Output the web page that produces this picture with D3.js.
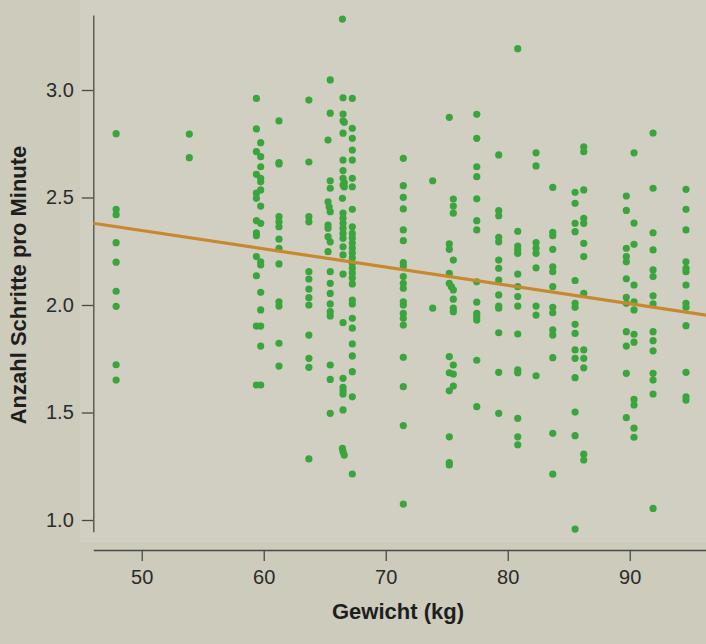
<!DOCTYPE html>
<html>
<head>
<meta charset="utf-8">
<script src="https://cdn.jsdelivr.net/npm/d3@7"></script>
<style>
  html, body { margin: 0; padding: 0; background: #cdcbbc; }
  svg { display: block; }
  text { font-family: "Liberation Sans", Arial, Helvetica, sans-serif; }
</style>
</head>
<body>
<svg id="chart" width="706" height="644"></svg>
<script>
// ---- data ----
const weightKg = [
  // ~48 kg
  47.9,47.9,47.9,47.9,47.9,47.9,47.9,47.9,47.9,
  // ~54 kg
  53.9,53.9,
  // ~59.4 kg
  59.4,59.4,59.4,59.4,59.4,59.4,59.4,59.4,59.4,59.4,59.4,59.4,59.4,
  // ~59.75 kg
  59.75,59.75,59.75,59.75,59.75,59.75,59.75,59.75,59.75,59.75,59.75,59.75,59.75,59.75,59.75,
  // ~61.25 kg
  61.25,61.25,61.25,61.25,61.25,61.25,61.25,61.25,61.25,61.25,61.25,61.25,61.25,
  // ~63.7 kg
  63.7,63.7,63.7,63.7,63.7,63.7,63.7,63.7,63.7,63.7,63.7,63.7,63.7,
  // ~65.3-65.45 kg
  65.45,65.45,65.27,65.45,65.45,65.27,65.36,65.45,65.27,65.27,65.27,65.45,65.27,
  65.45,65.45,65.45,65.45,65.45,65.45,65.45,65.45,65.45,
  // ~66.5 kg
  66.45,66.5,66.5,66.5,66.6,66.5,66.5,66.5,66.5,66.6,66.5,66.6,66.45,66.5,66.5,66.5,
  66.5,66.5,66.5,66.5,66.5,66.5,66.5,66.5,66.5,66.5,66.5,66.5,66.45,66.5,66.6,
  // ~67.25 kg
  67.26,67.26,67.26,67.26,67.26,67.26,67.26,67.26,67.26,67.26,67.26,67.26,67.26,67.26,
  67.26,67.26,67.26,67.26,67.26,67.26,67.26,67.26,67.26,67.26,67.26,67.26,67.26,67.26,67.26,
  // ~71.4 kg
  71.44,71.44,71.44,71.44,71.44,71.44,71.44,71.44,71.44,71.44,71.44,71.44,71.44,71.44,
  71.44,71.44,71.44,71.44,71.44,71.44,
  // ~73.9 kg
  73.85,73.85,
  // ~75.2-75.5 kg
  75.21,75.54,75.54,75.54,75.21,75.21,75.54,75.21,75.21,75.38,75.54,75.54,75.54,75.54,
  75.21,75.54,75.21,75.54,75.54,75.21,75.21,75.21,75.21,
  // ~77.5 kg
  77.46,77.46,77.46,77.46,77.46,77.46,77.46,77.46,77.46,77.46,77.46,77.46,77.46,77.46,
  // ~79.3 kg
  79.26,79.26,79.26,79.26,79.26,79.26,79.26,79.26,79.26,79.26,79.26,79.26,79.26,79.26,
  // ~80.8 kg
  80.82,80.82,80.82,80.82,80.82,80.82,80.82,80.82,80.82,80.82,80.82,80.82,80.82,80.82,80.82,
  // ~82.3 kg
  82.32,82.32,82.32,82.32,82.32,82.32,82.32,82.32,82.32,
  // ~83.7 kg
  83.69,83.69,83.69,83.69,83.69,83.69,83.69,83.69,83.69,83.69,83.69,83.69,83.69,83.69,
  // ~85.5 kg
  85.52,85.52,85.52,85.52,85.52,85.52,85.52,85.52,85.52,85.52,85.52,85.52,85.52,85.52,85.52,
  // ~86.2 kg
  86.23,86.23,86.23,86.23,86.23,86.23,86.23,86.23,86.23,86.23,86.23,86.23,86.23,
  // ~89.7 kg
  89.72,89.72,89.72,89.72,89.72,89.72,89.72,89.72,89.72,89.72,89.72,89.72,
  // ~90.35 kg
  90.35,90.35,90.35,90.35,90.35,90.35,90.35,90.35,90.35,90.35,90.35,90.35,
  // ~91.9 kg
  91.91,91.91,91.91,91.91,91.91,91.91,91.91,91.91,91.91,91.91,91.91,91.91,91.91,91.91,91.91,
  // ~94.6 kg
  94.61,94.61,94.61,94.61,94.61,94.61,94.61,94.61,94.61,94.61,94.61,94.61,94.61
];

const stepsPerMinute = [
  2.797,2.445,2.420,2.290,2.199,2.064,1.994,1.722,1.651,
  2.795,2.685,
  2.961,2.819,2.713,2.608,2.520,2.496,2.392,2.336,2.322,2.225,2.136,1.902,1.628,
  2.755,2.690,2.643,2.589,2.573,2.535,2.460,2.380,2.201,2.186,2.059,1.977,1.902,1.809,1.628,
  2.856,2.662,2.656,2.411,2.387,2.364,2.306,2.264,2.191,2.015,1.995,1.822,1.716,
  2.953,2.665,2.411,2.387,2.155,2.121,2.074,2.034,2.000,1.860,1.752,1.710,1.284,
  3.047,2.892,2.767,2.578,2.543,2.480,2.457,2.434,2.372,2.357,2.318,2.294,2.248,
  2.155,2.101,2.054,2.005,1.969,1.949,1.721,1.654,1.496,
  3.330,2.964,2.888,2.857,2.850,2.799,2.674,2.625,2.589,2.569,2.558,2.549,2.496,2.427,2.403,2.380,
  2.357,2.333,2.310,2.271,2.233,2.144,1.918,1.659,1.617,1.601,1.586,1.512,1.333,1.318,1.302,
  2.961,2.822,2.775,2.721,2.674,2.589,2.550,2.445,2.364,2.333,2.312,2.288,2.265,2.242,
  2.219,2.194,2.172,2.149,2.126,2.098,2.023,2.005,1.938,1.892,1.819,1.763,1.690,1.573,1.214,
  2.682,2.555,2.501,2.447,2.349,2.299,2.197,2.181,2.132,2.101,2.078,2.015,2.000,1.961,
  1.938,1.907,1.757,1.620,1.439,1.074,
  2.578,1.985,
  2.873,2.493,2.460,2.427,2.284,2.259,2.209,2.147,2.101,2.085,2.070,2.027,1.985,1.969,
  1.760,1.721,1.685,1.679,1.623,1.601,1.387,1.267,1.256,
  2.887,2.775,2.643,2.597,2.494,2.392,2.349,2.108,2.013,1.961,1.946,1.930,1.743,1.527,
  2.698,2.439,2.415,2.315,2.294,2.209,2.171,2.116,2.047,1.995,1.985,1.871,1.687,1.496,
  3.192,2.343,2.274,2.256,2.240,2.144,2.085,2.039,1.995,1.865,1.698,1.685,1.473,1.387,1.350,
  2.708,2.647,2.290,2.264,2.240,2.173,1.995,1.953,1.671,
  2.547,2.338,2.322,2.259,2.178,2.155,2.085,1.989,1.964,1.884,1.860,1.755,1.403,1.213,
  2.524,2.473,2.380,2.341,2.114,2.008,1.989,1.910,1.868,1.791,1.752,1.662,1.502,1.392,0.958,
  2.736,2.713,2.535,2.403,2.380,2.287,2.225,2.054,1.791,1.752,1.708,1.306,1.279,
  2.507,2.440,2.264,2.225,2.201,2.122,2.036,2.008,1.876,1.809,1.682,1.476,
  2.708,2.381,2.282,2.093,2.015,1.977,1.864,1.827,1.561,1.535,1.427,1.385,
  2.800,2.543,2.336,2.256,2.163,2.132,2.043,2.005,1.876,1.834,1.787,1.682,1.651,1.586,1.054,
  2.538,2.445,2.349,2.201,2.171,2.155,2.093,2.008,1.989,1.904,1.687,1.573,1.558
];

const xTicks = [50, 60, 70, 80, 90];
const yTicks = [1.0, 1.5, 2.0, 2.5, 3.0];
const trendIntercept = 2.772;
const trendSlope = -0.00851;
const xTitle = "Gewicht (kg)";
const yTitle = "Anzahl Schritte pro Minute";

// ---- drawing ----
const svg = d3.select("#chart");
const W = 706, H = 644;

svg.append("rect").attr("width", W).attr("height", H).attr("fill", "#cdcbbc");
svg.append("rect").attr("x", 80).attr("y", 0).attr("width", W - 80).attr("height", 542)
   .attr("fill", "#d1cfc2");

const x = d3.scaleLinear().domain([46.03, 96.25]).range([93.3, 706]);
const y = d3.scaleLinear().domain([0.9456, 3.3488]).range([531.7, 15]);

// y axis
const yAxis = svg.append("g").attr("transform", "translate(93.3,0)")
  .call(d3.axisLeft(y).tickValues(yTicks).tickFormat(d3.format(".1f"))
        .tickSize(11.5).tickSizeOuter(0).tickPadding(8));
// x axis
const xAxis = svg.append("g").attr("transform", "translate(0,550)")
  .call(d3.axisBottom(x).tickValues(xTicks).tickFormat(d3.format("d"))
        .tickSize(11).tickSizeOuter(0).tickPadding(9));

[yAxis, xAxis].forEach(g => {
  g.select(".domain").attr("stroke", "#4a4a48").attr("stroke-width", 1.3);
  g.selectAll(".tick line").attr("stroke", "#4a4a48").attr("stroke-width", 1.3);
  g.selectAll(".tick text").attr("fill", "#2b2b2b").style("font-size", "20px");
});

// points
const pts = d3.range(weightKg.length).map(i => ({w: weightKg[i], s: stepsPerMinute[i]}));
svg.append("g").selectAll("circle").data(pts).join("circle")
  .attr("cx", d => x(d.w)).attr("cy", d => y(d.s)).attr("r", 3.6)
  .attr("fill", "#3ba53d");

// trend line
const [x0, x1] = x.domain();
svg.append("line")
  .attr("x1", x(x0)).attr("y1", y(trendIntercept + trendSlope * x0))
  .attr("x2", x(x1)).attr("y2", y(trendIntercept + trendSlope * x1))
  .attr("stroke", "#c8892e").attr("stroke-width", 3.2);

// titles
svg.append("text").attr("x", 398).attr("y", 619).attr("text-anchor", "middle")
  .style("font-size", "22px").style("font-weight", "bold").attr("fill", "#1e1e1e")
  .text(xTitle);
svg.append("text").attr("transform", "translate(25.5,285) rotate(-90)")
  .attr("text-anchor", "middle")
  .style("font-size", "22px").style("font-weight", "bold").attr("fill", "#1e1e1e")
  .text(yTitle);
</script>
</body>
</html>
